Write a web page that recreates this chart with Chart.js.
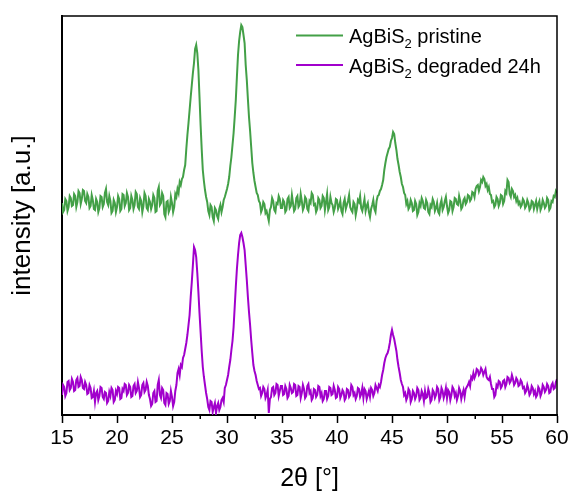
<!DOCTYPE html>
<html>
<head>
<meta charset="utf-8">
<script src="https://cdn.jsdelivr.net/npm/chart.js@4/dist/chart.umd.min.js"></script>
<style>
  html, body { margin: 0; padding: 0; background: #fff; }
  #wrap { width: 572px; height: 494px; }
</style>
</head>
<body>
<div id="wrap"><canvas id="xrd" width="572" height="494"></canvas></div>
<script>
// Scan grid: 2-theta from 15 deg in 0.1 deg steps (451 points)
const SCAN_START = 15;
const SCAN_STEP = 0.1;

// Intensity (a.u.), one row per degree: x.0 ... x.9
const pristine = [
  212, 203, 205, 216, 214, 204, 208, 219, 217, 209,   // 15
  210, 221, 219, 208, 213, 224, 222, 211, 216, 225,   // 16
  224, 214, 212, 221, 218, 207, 209, 220, 215, 206,   // 17
  205, 216, 213, 203, 207, 219, 218, 208, 211, 222,   // 18
  226, 213, 210, 219, 214, 202, 204, 215, 212, 203,   // 19
  208, 219, 216, 204, 206, 221, 220, 209, 212, 222,   // 20
  218, 205, 207, 219, 215, 206, 210, 223, 221, 208,   // 21
  206, 217, 214, 203, 209, 222, 219, 207, 205, 216,   // 22
  213, 206, 210, 220, 217, 203, 204, 224, 228, 210,   // 23
  212, 222, 219, 201, 198, 213, 214, 203, 206, 218,   // 24
  212, 203, 208, 221, 218, 226, 222, 233, 230, 236,   // 25
  238, 245, 250, 266, 280, 292, 305, 318, 330, 342,   // 26
  352, 366, 370, 362, 345, 318, 290, 266, 245, 234,   // 27
  225, 218, 213, 204, 200, 210, 208, 198, 194, 207,   // 28
  205, 199, 196, 206, 210, 203, 208, 215, 218, 222,   // 29
  226, 231, 238, 249, 258, 270, 282, 298, 315, 338,   // 30
  360, 374, 383, 390, 388, 380, 372, 350, 335, 316,   // 31
  298, 284, 268, 252, 242, 234, 228, 222, 220, 214,   // 32
  212, 203, 206, 213, 211, 202, 204, 199, 194, 205,   // 33
  208, 217, 214, 205, 203, 212, 211, 219, 216, 207,   // 34
  207, 215, 213, 203, 205, 216, 218, 207, 209, 220,   // 35
  212, 204, 206, 217, 219, 208, 210, 221, 214, 205,   // 36
  208, 218, 216, 206, 204, 214, 212, 222, 220, 210,   // 37
  211, 203, 206, 217, 215, 207, 209, 219, 217, 205,   // 38
  213, 221, 205, 208, 218, 212, 210, 203, 207, 216,   // 39
  215, 206, 209, 214, 204, 201, 212, 216, 206, 210,   // 40
  214, 220, 208, 205, 203, 213, 211, 200, 206, 215,   // 41
  213, 219, 207, 204, 210, 216, 204, 209, 212, 203,   // 42
  198, 206, 210, 215, 206, 203, 214, 219, 220, 224,   // 43
  226, 230, 235, 245, 252, 258, 262, 266, 268, 274,   // 44
  277, 283, 281, 272, 265, 256, 250, 243, 238, 231,   // 45
  228, 222, 220, 211, 214, 206, 208, 215, 212, 204,   // 46
  205, 214, 211, 200, 203, 212, 209, 217, 214, 207,   // 47
  206, 215, 212, 203, 201, 210, 208, 216, 213, 204,   // 48
  207, 212, 203, 201, 211, 215, 205, 208, 214, 218,   // 49
  209, 202, 205, 214, 213, 204, 208, 217, 216, 211,   // 50
  210, 219, 214, 206, 208, 215, 217, 211, 213, 220,   // 51
  219, 214, 216, 223, 222, 218, 226, 229, 230, 224,   // 52
  228, 235, 233, 238, 236, 229, 231, 225, 228, 221,   // 53
  220, 213, 214, 208, 210, 218, 216, 209, 212, 220,   // 54
  219, 211, 214, 224, 222, 235, 233, 221, 218, 226,   // 55
  224, 218, 220, 214, 217, 211, 213, 208, 210, 216,   // 56
  214, 207, 209, 215, 212, 205, 207, 214, 213, 206,   // 57
  210, 214, 206, 211, 214, 205, 208, 215, 212, 207,   // 58
  209, 217, 215, 205, 207, 214, 213, 219, 218, 224,   // 59
  222                                                 // 60
];

const degraded = [
  20, 30, 28, 19, 22, 33, 34, 25, 27, 36,             // 15
  33, 24, 25, 35, 37, 28, 29, 38, 35, 27,             // 16
  26, 33, 30, 21, 22, 30, 27, 17, 18, 24,             // 17
  13, 22, 24, 15, 19, 28, 27, 18, 16, 23,             // 18
  22, 12, 14, 23, 19, 27, 25, 13, 15, 24,             // 19
  21, 28, 27, 16, 17, 26, 24, 31, 30, 20,             // 20
  22, 30, 28, 18, 19, 29, 31, 22, 24, 33,             // 21
  27, 18, 20, 30, 32, 23, 25, 33, 29, 20,             // 22
  16, 9, 11, 22, 24, 13, 14, 30, 35, 20,              // 23
  17, 27, 25, 12, 10, 22, 21, 11, 14, 24,             // 24
  18, 9, 13, 24, 30, 42, 46, 40, 50, 48,              // 25
  57, 60, 66, 72, 80, 90, 100, 118, 133, 150,         // 26
  168, 165, 158, 142, 123, 102, 83, 64, 48, 38,       // 27
  30, 22, 16, 8, 5, 14, 13, 3, 8, 12,                 // 28
  2, 9, 12, 5, 8, 15, 17, 13, 27, 30,                 // 29
  35, 40, 48, 55, 65, 74, 88, 108, 128, 146,          // 30
  160, 172, 180, 182, 178, 172, 165, 150, 135, 118,   // 31
  103, 90, 75, 62, 50, 44, 40, 34, 30, 26,            // 32
  27, 19, 22, 28, 26, 17, 20, 25, 2, 16,              // 33
  18, 27, 28, 20, 22, 31, 30, 19, 24, 29,             // 34
  29, 20, 21, 29, 26, 17, 19, 30, 27, 22,             // 35
  23, 31, 30, 19, 20, 29, 28, 17, 22, 30,             // 36
  26, 17, 19, 29, 31, 22, 24, 15, 17, 26,             // 37
  25, 18, 20, 29, 28, 19, 22, 14, 16, 24,             // 38
  24, 16, 19, 28, 27, 20, 21, 29, 25, 17,             // 39
  18, 28, 26, 17, 20, 25, 23, 15, 17, 26,             // 40
  25, 18, 20, 30, 28, 20, 22, 16, 19, 27,             // 41
  26, 18, 21, 27, 17, 26, 24, 16, 20, 24,             // 42
  18, 27, 25, 19, 22, 30, 27, 24, 30, 28,             // 43
  33, 40, 45, 52, 57, 60, 62, 66, 72, 80,             // 44
  85, 80, 76, 70, 64, 55, 48, 42, 35, 31,             // 45
  28, 20, 22, 15, 18, 26, 24, 13, 16, 24,             // 46
  22, 16, 19, 27, 25, 15, 17, 24, 21, 14,             // 47
  24, 17, 18, 26, 22, 13, 15, 25, 23, 17,             // 48
  20, 28, 26, 15, 18, 27, 24, 17, 21, 27,             // 49
  17, 25, 23, 15, 20, 28, 26, 19, 22, 15,             // 50
  19, 27, 24, 16, 21, 25, 18, 26, 28, 30,             // 51
  33, 29, 38, 36, 42, 37, 40, 46, 45, 40,             // 52
  42, 47, 45, 40, 43, 46, 38, 36, 35, 38,             // 53
  31, 26, 26, 18, 20, 30, 28, 34, 33, 27,             // 54
  29, 34, 35, 28, 31, 38, 37, 32, 34, 40,             // 55
  36, 30, 32, 37, 35, 29, 30, 35, 33, 27,             // 56
  28, 22, 24, 30, 26, 20, 22, 29, 27, 21,             // 57
  24, 18, 20, 28, 26, 19, 22, 30, 28, 23,             // 58
  25, 31, 29, 22, 23, 30, 32, 26, 27, 33,             // 59
  36                                                  // 60
];

const seriesLabels = ['AgBiS\u2082 pristine', 'AgBiS\u2082 degraded 24h'];
const seriesColors = ['#43A047', '#A100CC'];
const xTicks = [15, 20, 25, 30, 35, 40, 45, 50, 55, 60];
const xMinorTicks = [17.5, 22.5, 27.5, 32.5, 37.5, 42.5, 47.5, 52.5, 57.5];

const FONT = '"Liberation Sans", Arial, "DejaVu Sans", sans-serif';

const twoTheta = pristine.map((_, i) => +(SCAN_START + i * SCAN_STEP).toFixed(1));
const toPoints = arr => arr.map((v, i) => ({ x: twoTheta[i], y: v }));

// Frame on the top/right edges plus the short minor ticks under the x axis
const framePlugin = {
  id: 'frame',
  afterDraw(chart) {
    const { ctx, chartArea: a, scales } = chart;
    ctx.save();
    ctx.strokeStyle = '#000';
    ctx.lineWidth = 1.5;
    ctx.beginPath();
    ctx.moveTo(a.left, a.top);
    ctx.lineTo(a.right, a.top);
    ctx.lineTo(a.right, a.bottom);
    ctx.stroke();
    ctx.beginPath();
    xMinorTicks.forEach(t => {
      const px = Math.round(scales.x.getPixelForValue(t)) + 0.25;
      ctx.moveTo(px, a.bottom);
      ctx.lineTo(px, a.bottom + 4);
    });
    ctx.stroke();
    ctx.restore();
  }
};

// Legend in the upper right of the plot, with subscripted digits
const legendPlugin = {
  id: 'subLegend',
  afterDraw(chart) {
    const { ctx } = chart;
    const x0 = 296, lineLen = 47, textX = 349;
    const rows = [35.5, 65];
    ctx.save();
    chart.data.datasets.forEach((ds, k) => {
      const y = rows[k];
      ctx.strokeStyle = ds.borderColor;
      ctx.lineWidth = 2;
      ctx.beginPath();
      ctx.moveTo(x0, y);
      ctx.lineTo(x0 + lineLen, y);
      ctx.stroke();
      ctx.fillStyle = '#000';
      ctx.textBaseline = 'alphabetic';
      let cx = textX;
      const base = y + 7.5;
      const parts = ds.label.split('\u2082');
      parts.forEach((p, j) => {
        ctx.font = '20px ' + FONT;
        ctx.fillText(p, cx, base);
        cx += ctx.measureText(p).width;
        if (j < parts.length - 1) {
          ctx.font = '13px ' + FONT;
          ctx.fillText('2', cx, base + 5);
          cx += ctx.measureText('2').width;
        }
      });
    });
    ctx.restore();
  }
};

new Chart(document.getElementById('xrd'), {
  type: 'line',
  data: {
    datasets: [
      { label: seriesLabels[0], data: toPoints(pristine), borderColor: seriesColors[0], borderWidth: 2, pointRadius: 0, tension: 0 },
      { label: seriesLabels[1], data: toPoints(degraded), borderColor: seriesColors[1], borderWidth: 2, pointRadius: 0, tension: 0 }
    ]
  },
  options: {
    responsive: false,
    animation: false,
    layout: { padding: { top: 16, right: 15, left: 0, bottom: 0 } },
    plugins: { legend: { display: false }, tooltip: { enabled: false } },
    scales: {
      x: {
        type: 'linear',
        min: 15, max: 60,
        afterBuildTicks: s => { s.ticks = xTicks.map(v => ({ value: v })); },
        afterFit: s => { s.height = 79; },
        ticks: { color: '#000', font: { family: FONT, size: 21 }, padding: 3, maxRotation: 0, autoSkip: false },
        grid: { display: true, drawOnChartArea: false, drawTicks: true, tickLength: 8, tickColor: '#000', tickWidth: 1.5 },
        border: { display: true, color: '#000', width: 2 },
        title: { display: true, text: '2\u03B8 [\u00B0]', color: '#000', font: { family: FONT, size: 25, lineHeight: 1 }, padding: { top: 0, bottom: 2 } }
      },
      y: {
        type: 'linear',
        min: 0, max: 399,
        afterFit: s => { s.width = 62; },
        ticks: { display: false },
        grid: { display: false },
        border: { display: true, color: '#000', width: 2 },
        title: { display: true, text: 'intensity [a.u.]', color: '#000', font: { family: FONT, size: 26, lineHeight: 1 }, padding: { top: 10, bottom: 0 } }
      }
    }
  },
  plugins: [framePlugin, legendPlugin]
});
</script>
</body>
</html>
